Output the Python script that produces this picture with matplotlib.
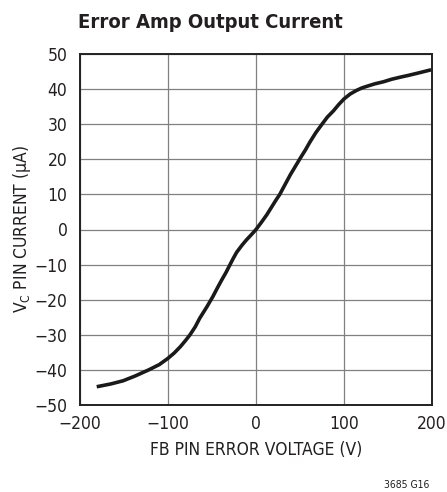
import matplotlib
matplotlib.use("Agg")
import matplotlib.pyplot as plt

# Data
fb_voltage = [-181, -165, -151, -137, -122, -110, -100, -93, -86, -80, -75, -69, -64, -56, -49, -44, -39, -34,
              -29.5, -26, -22, -16, -11, -5, 0, 6, 12, 18, 23, 27, 33, 39, 45, 50, 56, 61, 68, 75, 81, 88, 94,
              100, 107, 114, 120, 126, 135, 145, 154, 164, 173, 183, 191, 199]
vc_current = [-44.8, -44.0, -43.1, -41.7, -40.0, -38.5, -36.7, -35.2, -33.4, -31.6, -30.0, -27.7, -25.3, -22.1,
              -19.1, -16.7, -14.4, -12.2, -10.0, -8.3, -6.5, -4.5, -3.0, -1.4, 0.0, 2.0, 4.1, 6.5, 8.5, 10.0,
              12.8, 15.6, 18.1, 20.2, 22.6, 24.8, 27.6, 30.0, 32.0, 33.8, 35.6, 37.2, 38.6, 39.6, 40.3, 40.8,
              41.5, 42.1, 42.8, 43.4, 43.9, 44.5, 45.0, 45.5]

x_ticks = [-200, -100, 0, 100, 200]
y_ticks = [-50, -40, -30, -20, -10, 0, 10, 20, 30, 40, 50]

plt.rcParams['font.family'] = ['DejaVu Sans']
plt.rcParams['font.stretch'] = 'condensed'
plt.rcParams['mathtext.fontset'] = 'custom'
plt.rcParams['mathtext.rm'] = 'DejaVu Sans:stretch=condensed'

TXT = '#231f20'
W, H = 447, 492
fig = plt.figure(figsize=(W / 100, H / 100), dpi=100)
ax = fig.add_axes([80 / W, 1 - 405 / H, 352 / W, 351 / H])

ax.plot(fb_voltage, vc_current, color='#1a1a1a', linewidth=2.6, solid_capstyle='butt',
        solid_joinstyle='round')

ax.set_xlim(-200, 200)
ax.set_ylim(-50, 50)
ax.set_xticks(x_ticks)
ax.set_yticks(y_ticks)
ax.set_xticklabels([f"{v}".replace('-', '\u2212') for v in x_ticks])
ax.set_yticklabels([f"{v}".replace('-', '\u2212') for v in y_ticks])
ax.tick_params(length=0, labelsize=12.5, colors=TXT)
ax.tick_params(axis='y', pad=9)
ax.tick_params(axis='x', pad=7)
ax.grid(True, color='#808080', linewidth=0.9)
ax.set_axisbelow(True)
for s in ax.spines.values():
    s.set_linewidth(1.4)
    s.set_color('#222222')

ax.set_xlabel("FB PIN ERROR VOLTAGE (V)", fontsize=12.5, color=TXT, labelpad=6)
ax.set_ylabel("V$_\\mathregular{C}$ PIN CURRENT (\u00b5A)", fontsize=12.5, color=TXT, labelpad=1)

fig.text(78 / W, 1 - 28 / H, "Error Amp Output Current", fontsize=14.5, fontweight='bold',
         color=TXT, ha='left', va='baseline')
fig.text(429 / W, 1 - 488 / H, "3685 G16", fontsize=7.5, color=TXT, ha='right', va='baseline')

fig.savefig("out.png", dpi=100)
